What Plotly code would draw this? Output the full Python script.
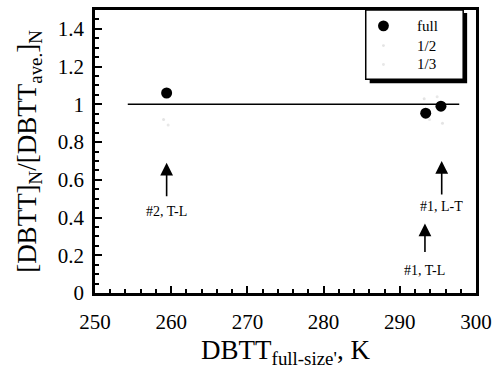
import plotly.graph_objects as go

# data
full_x = [259.4, 293.4, 295.4]
full_y = [1.06, 0.953, 0.99]
half_x = [259.0, 293.2, 295.6]
half_y = [0.92, 1.03, 0.90]
third_x = [259.6, 294.9, 293.9]
third_y = [0.89, 1.04, 0.92]
fit_x = [254.3, 297.8]
fit_y = [1.0, 1.0]

arrow_x = [259.4, 295.5, 293.3]
arrow_head_y = [0.69, 0.70, 0.368]
arrow_len_px = [35, 35, 30]
arrow_labels = ["#2, T-L", "#1, L-T", "#1, T-L"]
label_y = [0.43, 0.46, 0.12]

legend_names = ["full", "1/2", "1/3"]
legend_colors = ["black", "#e4e4e4", "#e8e8e8"]
legend_sizes = [11, 3, 3]

FONT = "Liberation Serif, Times New Roman, serif"

# plot area in pixels
L, R, T, B = 95, 482, 7, 293
W, H = R - L, B - T


def px(xp):
    return (xp - L) / W


def py(yp):
    return 1 - (yp - T) / H


fig = go.Figure()
fig.add_trace(go.Scatter(x=fit_x, y=fit_y, mode="lines", line=dict(color="black", width=1.5),
                         showlegend=False, hoverinfo="skip"))
for nm, xs, ys, c, s in zip(legend_names, [full_x, half_x, third_x], [full_y, half_y, third_y],
                            legend_colors, legend_sizes):
    fig.add_trace(go.Scatter(x=xs, y=ys, mode="markers", name=nm, showlegend=False,
                             marker=dict(color=c, size=s)))

for x, hy, ln, lab, ly in zip(arrow_x, arrow_head_y, arrow_len_px, arrow_labels, label_y):
    fig.add_annotation(x=x, y=hy, xref="x", yref="y", text="", showarrow=True,
                       ax=0, ay=ln, arrowhead=2, arrowsize=1.6, arrowwidth=1.6,
                       arrowcolor="black", standoff=0)
    fig.add_annotation(x=x, y=ly, xref="x", yref="y", text=lab, showarrow=False,
                       font=dict(family=FONT, size=14, color="black"))

# manual legend: shadow, box, symbols, texts
fig.add_shape(type="rect", xref="paper", yref="paper",
              x0=px(374), x1=px(473), y0=py(81), y1=py(10),
              fillcolor="black", line=dict(width=0), layer="above")
fig.add_shape(type="rect", xref="paper", yref="paper",
              x0=px(370), x1=px(469), y0=py(77), y1=py(7),
              fillcolor="white", line=dict(color="black", width=1.5), layer="above")
leg_y = [23, 43, 62]
for nm, c, s, yy in zip(legend_names, legend_colors, legend_sizes, leg_y):
    r = s / 2
    fig.add_shape(type="circle", xref="paper", yref="paper",
                  x0=px(388 - r), x1=px(388 + r), y0=py(yy + r), y1=py(yy - r),
                  fillcolor=c, line=dict(width=0), layer="above")
    fig.add_annotation(x=px(420), y=py(yy), xref="paper", yref="paper", text=nm,
                       showarrow=False, xanchor="left", yanchor="middle",
                       font=dict(family=FONT, size=15, color="black"))

fig.update_layout(
    width=499, height=376,
    margin=dict(l=L, r=499 - R, t=T, b=376 - B),
    paper_bgcolor="white", plot_bgcolor="white",
    font=dict(family=FONT, color="black"),
    showlegend=False,
    xaxis=dict(range=[250, 300], dtick=10, tick0=250, showgrid=False, zeroline=False,
               showline=True, linecolor="black", linewidth=2.5, mirror=True,
               ticks="inside", ticklen=7, tickwidth=1.5, tickcolor="black",
               minor=dict(dtick=2, ticks="inside", ticklen=4, tickwidth=1.5, tickcolor="black"),
               tickfont=dict(family=FONT, size=21), ticklabelstandoff=8,
               title=dict(text="DBTT<sub>full-size'</sub>, K", font=dict(family=FONT, size=27), standoff=8)),
    yaxis=dict(range=[0, 1.5], dtick=0.2, tick0=0, showgrid=False, zeroline=False,
               showline=True, linecolor="black", linewidth=2.5, mirror=True,
               ticks="inside", ticklen=7, tickwidth=1.5, tickcolor="black",
               minor=dict(dtick=0.05, ticks="inside", ticklen=4, tickwidth=1.5, tickcolor="black"),
               tickfont=dict(family=FONT, size=21), tickformat="~g", ticklabelstandoff=4,
               title=dict(text="[DBTT]<sub>N</sub>/[DBTT<sub>ave.</sub>]<sub>N</sub>",
                          font=dict(family=FONT, size=27), standoff=14)),
)

fig.write_html("out.html")
